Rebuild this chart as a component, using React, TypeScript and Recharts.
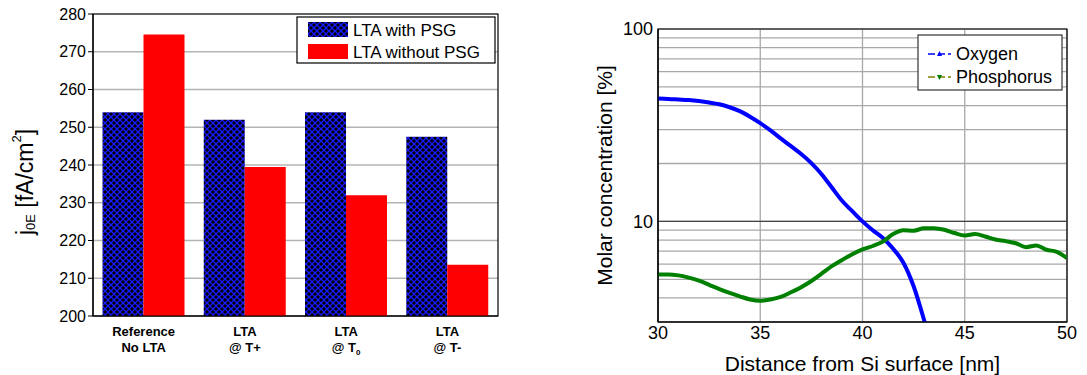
import React from "react";
import {
  Bar,
  BarChart,
  CartesianGrid,
  Line,
  LineChart,
  ReferenceArea,
  ReferenceLine,
  XAxis,
  YAxis,
} from "recharts";

const FONT = '"Liberation Sans", Arial, Helvetica, sans-serif';

// left panel: emitter saturation current
const categories = ["Reference No LTA", "LTA @ T+", "LTA @ T0", "LTA @ T-"];
const tickLines = [
  ["Reference", "No LTA", ""],
  ["LTA", "@ T+", ""],
  ["LTA", "@ T", "0"],
  ["LTA", "@ T-", ""],
];
const withPsg = [254, 252, 254, 247.5];
const withoutPsg = [274.6, 239.5, 232, 213.6];
const j0Ticks = [200, 210, 220, 230, 240, 250, 260, 270, 280];

// right panel: depth profile
const depth = [
  30, 30.5, 31, 31.5, 32, 32.5, 33, 33.5, 34, 34.5, 35, 35.5, 36, 36.5, 37, 37.5, 38, 38.5, 39, 39.5, 40,
  40.5, 41, 41.5, 42, 42.5, 43, 43.5, 44, 44.5, 45, 45.5, 46, 46.5, 47, 47.5, 48, 48.5, 49, 49.5, 50,
];
const oxygen: (number | null)[] = [
  43.5, 43.3, 43.0, 42.7, 42.2, 41.5, 40.6, 39.2, 37.4, 35.0, 32.4, 29.7, 27.0, 24.6, 22.4, 20.1, 17.6,
  15.0, 12.8, 11.3, 10.0, 9.0, 8.2, 7.2, 6.1, 4.6, 3.1, 2.0, null, null, null, null, null, null, null,
  null, null, null, null, null, null,
];
const phosphorus = [
  5.29, 5.3, 5.24, 5.1, 4.92, 4.68, 4.45, 4.25, 4.08, 3.93, 3.87, 3.93, 4.05, 4.28, 4.55, 4.9, 5.35,
  5.85, 6.3, 6.75, 7.15, 7.45, 7.85, 8.6, 9.0, 8.95, 9.2, 9.22, 9.05, 8.7, 8.45, 8.6, 8.35, 8.05, 7.9,
  7.7, 7.35, 7.5, 7.12, 6.95, 6.45,
];
const depthTicks = [30, 35, 40, 45, 50];
const concTicks = [3, 4, 5, 6, 7, 8, 9, 10, 20, 30, 40, 50, 60, 70, 80, 90, 100];

const barData = categories.map((cat, i) => ({ cat, psg: withPsg[i], noPsg: withoutPsg[i] }));
const profileData = depth.map((d, i) => ({ d, o: oxygen[i], p: phosphorus[i] }));

function CatTick(props: any) {
  const { x, y, payload } = props;
  const [l1, l2, sub] = tickLines[categories.indexOf(payload.value)];
  return (
    <text x={x} y={y} textAnchor="middle" fontFamily={FONT} fontWeight="bold" fontSize={13} fill="#000">
      <tspan x={x} dy={19.5}>{l1}</tspan>
      <tspan x={x} dy={16}>
        {l2}
        {sub && (
          <tspan fontSize={8} dy={3}>
            {sub}
          </tspan>
        )}
      </tspan>
    </text>
  );
}

function J0Label(props: any) {
  const vb = props.viewBox || { x: 0, y: 14, width: 93, height: 302 };
  const cx = vb.x + 25;
  const cy = vb.y + vb.height / 2 + 17;
  return (
    <text
      transform={`translate(${cx},${cy}) rotate(-90)`}
      textAnchor="middle"
      dominantBaseline="central"
      fontFamily={FONT}
      fontSize={23}
      fill="#000"
    >
      j<tspan fontSize={13} dy={5}>0E</tspan>
      <tspan dy={-5}> [fA/cm</tspan>
      <tspan fontSize={13} dy={-9}>2</tspan>
      <tspan dy={9}>]</tspan>
    </text>
  );
}

function ConcLabel(props: any) {
  const vb = props.viewBox || { x: 0, y: 29, width: 98, height: 293 };
  const cx = vb.x + 44;
  const cy = vb.y + vb.height / 2;
  return (
    <text
      transform={`translate(${cx},${cy}) rotate(-90)`}
      textAnchor="middle"
      dominantBaseline="central"
      fontFamily={FONT}
      fontSize={21}
      fill="#000"
    >
      Molar concentration [%]
    </text>
  );
}

function DepthLabel(props: any) {
  const vb = props.viewBox || { x: 98, y: 322, width: 409, height: 53 };
  return (
    <text
      x={vb.x + vb.width / 2}
      y={vb.y + 41}
      textAnchor="middle"
      dominantBaseline="central"
      fontFamily={FONT}
      fontSize={21}
      fill="#000"
    >
      Distance from Si surface [nm]
    </text>
  );
}

function BarLegend() {
  return (
    <svg width={200} height={48} style={{ position: "absolute", left: 296, top: 16 }}>
      <rect x={1} y={1} width={198} height={46} fill="#fff" stroke="#000" strokeWidth={1.2} />
      <rect x={12} y={6} width={40} height={15} fill="url(#xhatch)" />
      <text x={57} y={20} fontFamily={FONT} fontSize={17} fill="#000">LTA with PSG</text>
      <rect x={12} y={28} width={40} height={15} fill="#ff0000" />
      <text x={57} y={42} fontFamily={FONT} fontSize={17} fill="#000">LTA without PSG</text>
    </svg>
  );
}

function ProfileLegend() {
  return (
    <svg width={146} height={57} style={{ position: "absolute", left: 917, top: 34 }}>
      <rect x={1} y={1} width={144} height={55} fill="#fff" stroke="#333" strokeWidth={1.2} />
      <line x1={11} y1={20} x2={34} y2={20} stroke="#0000ff" strokeWidth={1.5} strokeDasharray="7 3" />
      <path d="M22.5,17 L25,22 L20,22 Z" fill="#0000ff" />
      <text x={39} y={26} fontFamily={FONT} fontSize={18} fill="#000">Oxygen</text>
      <line x1={11} y1={43} x2={34} y2={43} stroke="#808000" strokeWidth={1.5} strokeDasharray="7 3" />
      <path d="M20,41 L25,41 L22.5,46 Z" fill="#008000" />
      <text x={39} y={49} fontFamily={FONT} fontSize={18} fill="#000">Phosphorus</text>
    </svg>
  );
}

export default function App() {
  return (
    <div style={{ position: "absolute", left: 0, top: 0, width: 1087, height: 375, background: "#fff" }}>
      <svg width={0} height={0} style={{ position: "absolute" }}>
        <defs>
          <pattern id="xhatch" width={6} height={6} patternUnits="userSpaceOnUse">
            <rect width={6} height={6} fill="#000" />
            <path d="M-1,-1 L7,7 M7,-1 L-1,7" stroke="#1a1aff" strokeWidth={1.3} />
          </pattern>
        </defs>
      </svg>

      <div style={{ position: "absolute", left: 0, top: 0 }}>
        <BarChart
          width={520}
          height={375}
          data={barData}
          margin={{ top: 14, right: 22, bottom: 0, left: 0 }}
          barCategoryGap={9.5}
          barGap={0}
        >
          <CartesianGrid vertical={false} stroke="#b4b4b4" strokeWidth={1.5} />
          <XAxis
            dataKey="cat"
            height={59}
            tick={<CatTick />}
            tickLine={false}
            tickSize={0}
            tickMargin={0}
            axisLine={{ stroke: "#000", strokeWidth: 1.2 }}
            interval={0}
          />
          <YAxis
            width={93}
            domain={[200, 280]}
            ticks={j0Ticks}
            interval={0}
            tickSize={5}
            tickMargin={2}
            tickLine={{ stroke: "#000" }}
            axisLine={{ stroke: "#000", strokeWidth: 1.2 }}
            tick={{ fill: "#000", fontSize: 16, fontFamily: FONT }}
            label={<J0Label />}
          />
          <Bar dataKey="psg" fill="url(#xhatch)" isAnimationActive={false} />
          <Bar dataKey="noPsg" fill="#ff0000" isAnimationActive={false} />
          <ReferenceArea
            x1={categories[0]}
            x2={categories[categories.length - 1]}
            y1={200}
            y2={280}
            fill="none"
            stroke="#000"
            strokeWidth={1.2}
            ifOverflow="visible"
          />
        </BarChart>
      </div>

      <div style={{ position: "absolute", left: 560, top: 0 }}>
        <LineChart width={527} height={375} data={profileData} margin={{ top: 29, right: 20, bottom: 0, left: 0 }}>
          <CartesianGrid stroke="#a8a8a8" strokeWidth={1.3} />
          <XAxis
            dataKey="d"
            type="number"
            domain={[30, 50]}
            ticks={depthTicks}
            allowDataOverflow
            height={53}
            tickLine={false}
            tickSize={0}
            tickMargin={4}
            axisLine={{ stroke: "#000", strokeWidth: 1.2 }}
            tick={{ fill: "#000", fontSize: 18, fontFamily: FONT }}
            label={<DepthLabel />}
          />
          <YAxis
            width={98}
            scale="log"
            domain={[3, 100]}
            ticks={concTicks}
            interval={0}
            allowDataOverflow
            tickLine={false}
            tickSize={0}
            tickMargin={5}
            tickFormatter={(v: number) => (v === 10 || v === 100 ? String(v) : "")}
            axisLine={{ stroke: "#000", strokeWidth: 1.2 }}
            tick={{ fill: "#000", fontSize: 18, fontFamily: FONT }}
            label={<ConcLabel />}
          />
          <ReferenceLine y={10} stroke="#444" strokeWidth={1.3} />
          <Line
            dataKey="o"
            type="monotone"
            stroke="#0000ff"
            strokeWidth={4}
            dot={false}
            isAnimationActive={false}
          />
          <Line
            dataKey="p"
            type="monotone"
            stroke="#008000"
            strokeWidth={4}
            dot={false}
            isAnimationActive={false}
          />
          <ReferenceArea
            x1={30}
            x2={50}
            y1={3}
            y2={100}
            fill="none"
            stroke="#000"
            strokeWidth={1.2}
            ifOverflow="visible"
          />
        </LineChart>
      </div>

      <BarLegend />
      <ProfileLegend />
    </div>
  );
}
